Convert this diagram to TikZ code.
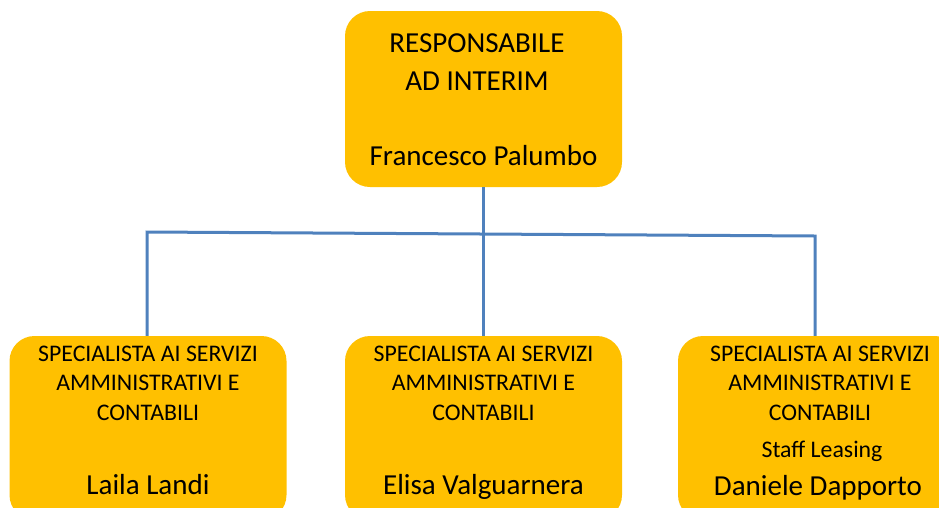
\documentclass[tikz,border=0pt]{standalone}
\usepackage{fontspec}
\setmainfont{Carlito}
\usetikzlibrary{positioning}
\definecolor{boxfill}{HTML}{FFC000}
\definecolor{linkblue}{HTML}{4F81BD}

\begin{document}
\begin{tikzpicture}[x=1pt,y=-1pt,
   box/.style={fill=boxfill, rounded corners=25pt, minimum width=277pt,
               minimum height=176pt, inner sep=0pt},
   role/.style={align=center, inner sep=0pt, anchor=base,
                font=\fontsize{23.8}{29.5}\selectfont},
   person/.style={inner sep=0pt, anchor=base,
                  font=\fontsize{29}{35}\selectfont},
   link/.style={draw=linkblue, line width=3pt}]

\clip (0,0) rectangle (939,507);

% boxes
\node[box] (top) at (483.5,99) {};
\node[box, minimum height=184pt] (b1) at (148,428) {};
\node[box, minimum height=184pt] (b2) at (483.5,428) {};
\node[box, minimum height=184pt, minimum width=282pt] (b3) at (819,428) {};

% texts (base = last line)
\node[person, align=center, font=\fontsize{29}{38}\selectfont] (t0) at (477,90)
    {RESPONSABILE\\AD INTERIM};
\node[person] (n0) at (483.5,165) {Francesco Palumbo};

\node[role] (r1) at (148,420) {SPECIALISTA AI SERVIZI\\AMMINISTRATIVI E\\CONTABILI};
\node[person] (n1) at (148,494) {Laila Landi};

\node[role] (r2) at (483.5,420) {SPECIALISTA AI SERVIZI\\AMMINISTRATIVI E\\CONTABILI};
\node[person] (n2) at (483.5,494) {Elisa Valguarnera};

\node[role] (r3) at (820,420) {SPECIALISTA AI SERVIZI\\AMMINISTRATIVI E\\CONTABILI};
\node[role] (s3) at (822,457) {Staff Leasing};
\node[person] (n3) at (818,495) {Daniele Dapporto};

% links
\coordinate (jl) at (147,232);
\coordinate (jr) at (815,236);
\draw[link] (top.south) -- (b2.north);
\draw[link] (b1.north -| jl) -- (jl) -- (jr) -- (jr |- b3.north);

\end{tikzpicture}
\end{document}
